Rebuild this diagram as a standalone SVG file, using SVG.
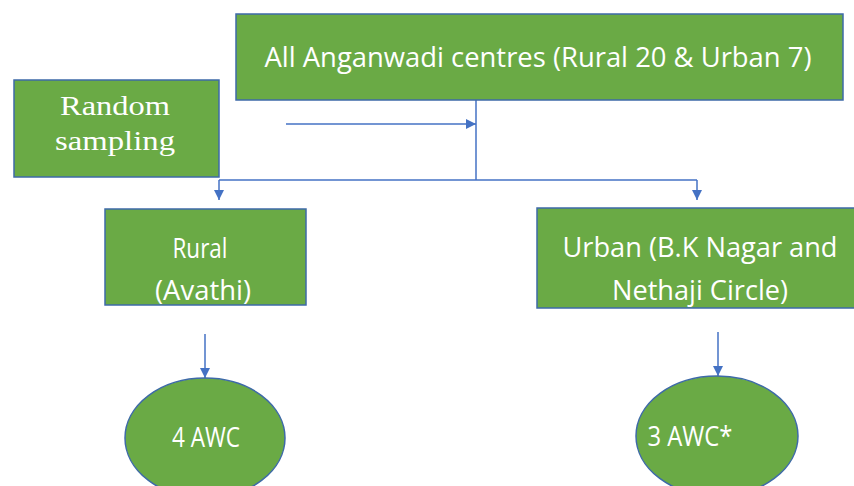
<svg xmlns="http://www.w3.org/2000/svg" width="854" height="486" viewBox="0 0 854 486">
<defs>
<style>
.box{fill:#6aaa45;stroke:#3e6aa8;stroke-width:1.5}
.t{font-family:"Open Sans","Liberation Sans",sans-serif;font-size:27px;fill:#ffffff;text-anchor:middle}
.s{font-family:"Liberation Serif",serif;font-size:27px;fill:#ffffff;text-anchor:middle}
.c{fill:none;stroke:#4472c4;stroke-width:1.5}
</style>
<marker id="ah" viewBox="0 0 10 10" refX="10" refY="5" markerWidth="10" markerHeight="10" markerUnits="userSpaceOnUse" orient="auto">
<path d="M0,0 L10,5 L0,10 z" fill="#4472c4"/>
</marker>
</defs>
<rect width="854" height="486" fill="#ffffff"/>
<g id="connectors">
<line class="c" x1="286" y1="124" x2="476" y2="124" marker-end="url(#ah)"/>
<line class="c" x1="476" y1="100" x2="476" y2="180"/>
<line class="c" x1="219" y1="180" x2="697" y2="180"/>
<line class="c" x1="219" y1="180" x2="219" y2="200" marker-end="url(#ah)"/>
<line class="c" x1="697" y1="180" x2="697" y2="200" marker-end="url(#ah)"/>
<line class="c" x1="205" y1="334" x2="205" y2="378" marker-end="url(#ah)"/>
<line class="c" x1="718" y1="332" x2="718" y2="376" marker-end="url(#ah)"/>
</g>
<g id="all">
<rect class="box" x="236" y="14" width="607" height="86"/>
<text class="t" x="538" y="67" textLength="547" lengthAdjust="spacingAndGlyphs">All Anganwadi centres (Rural 20 &amp; Urban 7)</text>
</g>
<g id="random">
<rect class="box" x="14" y="80" width="205" height="97"/>
<text class="s" x="115" y="115" textLength="110" lengthAdjust="spacingAndGlyphs">Random</text>
<text class="s" x="115" y="150" textLength="120" lengthAdjust="spacingAndGlyphs">sampling</text>
</g>
<g id="rural">
<rect class="box" x="105" y="209" width="201" height="96"/>
<text class="t" x="200" y="258" textLength="55" lengthAdjust="spacingAndGlyphs">Rural</text>
<text class="t" x="203" y="300" textLength="96" lengthAdjust="spacingAndGlyphs">(Avathi)</text>
</g>
<g id="urban">
<rect class="box" x="537" y="208" width="320" height="100"/>
<text class="t" x="700" y="257" textLength="275" lengthAdjust="spacingAndGlyphs">Urban (B.K Nagar and</text>
<text class="t" x="700" y="300" textLength="176" lengthAdjust="spacingAndGlyphs">Nethaji Circle)</text>
</g>
<g id="awc4">
<ellipse class="box" cx="205" cy="438" rx="80" ry="60"/>
<text class="t" x="206" y="447" textLength="68" lengthAdjust="spacingAndGlyphs">4 AWC</text>
</g>
<g id="awc3">
<ellipse class="box" cx="717" cy="436" rx="81" ry="60"/>
<text class="t" x="690" y="446" textLength="85" lengthAdjust="spacingAndGlyphs">3 AWC*</text>
</g>
</svg>
